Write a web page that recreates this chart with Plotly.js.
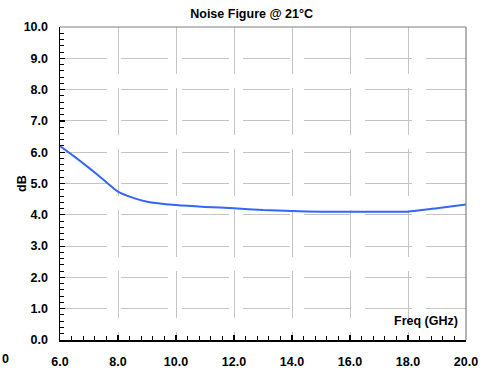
<!DOCTYPE html>
<html>
<head>
<meta charset="utf-8">
<script src="https://cdn.plot.ly/plotly-3.0.1.min.js"></script>
<style>html,body{margin:0;padding:0;background:#fff;}#chart{width:490px;height:368px;}</style>
</head>
<body>
<div id="chart"></div>
<script>
var freqGHz = [6.0, 6.5, 7.0, 7.5, 8.0, 8.5, 9.0, 10.0, 11.0, 12.0, 13.0, 14.0, 15.0, 16.0, 17.0, 18.0, 19.0, 20.0];
var noiseFigureDb = [6.2, 5.86, 5.5, 5.12, 4.74, 4.55, 4.42, 4.31, 4.25, 4.21, 4.15, 4.12, 4.1, 4.1, 4.1, 4.1, 4.21, 4.33];
var xTickStart = 6.0, xTickStep = 2.0, xMinorStep = 0.4;
var yTickStart = 0.0, yTickStep = 1.0, yMinorStep = 0.2;
var tickFormat = '.1f';
var chartTitle = "Noise Figure @ 21°C";
var xLabel = "Freq (GHz)";
var yLabel = "dB";
var strayLabel = "0";

var font = "Arial, 'Liberation Sans', sans-serif";

var trace = {
  x: freqGHz, y: noiseFigureDb, type: 'scatter', mode: 'lines',
  line: {color: '#3366ff', width: 2, shape: 'spline', smoothing: 0.4},
  hoverinfo: 'skip'
};

var layout = {
  width: 490, height: 368,
  margin: {l: 60, r: 24, t: 27, b: 28, pad: 0},
  paper_bgcolor: '#ffffff', plot_bgcolor: '#ffffff',
  showlegend: false,
  title: {text: '<b>' + chartTitle + '</b>', font: {family: font, size: 12.5, color: '#000'},
          x: 0.472, xref: 'paper', xanchor: 'center', y: 0.962, yref: 'container', yanchor: 'middle'},
  xaxis: {
    range: [6, 20], tickmode: 'linear', tick0: xTickStart, dtick: xTickStep, tickformat: tickFormat,
    showgrid: true, gridcolor: '#c4c4c4', gridwidth: 1, griddash: '47px,14px',
    showline: true, linecolor: '#000', linewidth: 1.5, mirror: false,
    ticks: 'inside', ticklen: 5, tickwidth: 1.2, tickcolor: '#000',
    minor: {tickmode: 'linear', dtick: xMinorStep, tick0: xTickStart, ticks: 'inside', ticklen: 4, tickwidth: 1, tickcolor: '#000', showgrid: false},
    tickfont: {family: font, size: 12.5, color: '#000', weight: 'bold'},
    ticklabelstandoff: 9,
    zeroline: false, fixedrange: true
  },
  yaxis: {
    range: [0, 10], tickmode: 'linear', tick0: yTickStart, dtick: yTickStep, tickformat: tickFormat,
    showgrid: true, gridcolor: '#c4c4c4', gridwidth: 1, griddash: '47px,14px',
    showline: true, linecolor: '#000', linewidth: 1.5, mirror: false,
    ticks: 'inside', ticklen: 5, tickwidth: 1.2, tickcolor: '#000',
    minor: {tickmode: 'linear', dtick: yMinorStep, tick0: yTickStart, ticks: 'inside', ticklen: 4, tickwidth: 1, tickcolor: '#000', showgrid: false},
    tickfont: {family: font, size: 12.5, color: '#000', weight: 'bold'},
    ticklabelstandoff: 8,
    zeroline: false, fixedrange: true
  },
  shapes: [
    {type: 'line', xref: 'paper', yref: 'paper', x0: 0, x1: 1, y0: 1, y1: 1, line: {color: '#808080', width: 1.2}},
    {type: 'line', xref: 'paper', yref: 'paper', x0: 1, x1: 1, y0: 0, y1: 1, line: {color: '#808080', width: 1.2}}
  ],
  annotations: [
    {text: '<b>' + xLabel + '</b>', xref: 'paper', yref: 'paper', x: 0.985, y: 0.06, xanchor: 'right', yanchor: 'middle',
     showarrow: false, font: {family: font, size: 12.5, color: '#000'}},
    {text: '<b>' + yLabel + '</b>', xref: 'paper', yref: 'paper', x: -0.095, y: 0.5, xanchor: 'center', yanchor: 'middle',
     textangle: -90, showarrow: false, font: {family: font, size: 12.5, color: '#000'}},
    {text: '<b>' + strayLabel + '</b>', xref: 'paper', yref: 'paper', x: -0.1475, y: -0.06, xanchor: 'left', yanchor: 'middle',
     showarrow: false, font: {family: font, size: 12.5, color: '#000'}}
  ]
};

Plotly.newPlot('chart', [trace], layout, {displayModeBar: false, staticPlot: true});
</script>
</body>
</html>
